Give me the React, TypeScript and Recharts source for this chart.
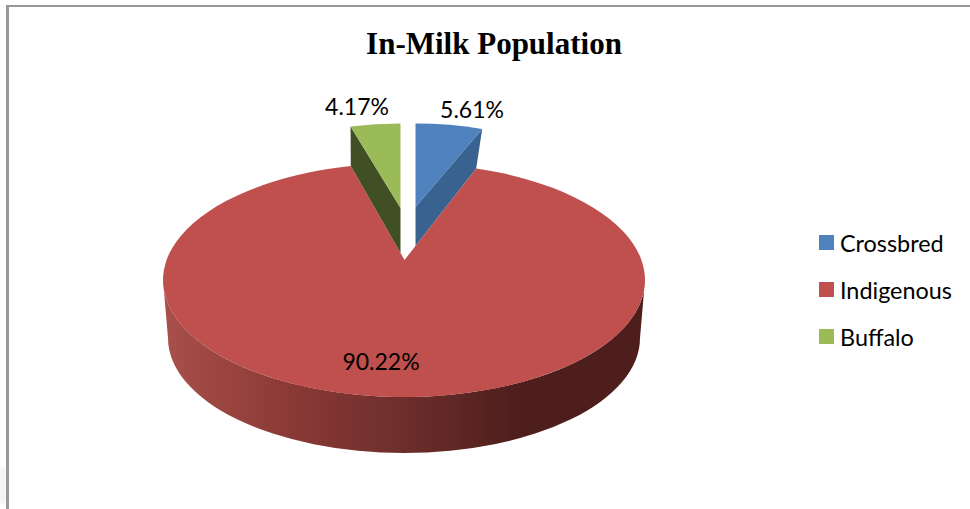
import { PieChart, Pie, Legend } from "recharts";

const categories = ["Crossbred", "Indigenous", "Buffalo"];
const shares = [5.61, 90.22, 4.17];
const colors = ["#4F81BD", "#BF504D", "#9BBB59"];
const sideColors = ["#3A6291", "", "#404F24"];

const rows = categories.map((name, i) => ({ name, value: shares[i], fill: colors[i] }));

// fake 3D: the tilted disc is an ellipse whose hub sits above its centre
const TILT = 117 / 241;
const HUB_LIFT = 20;
const RAY_SQUASH = 0.47;
const EXPLODED_SCALE = 0.93;
const EXPLODED_LIFT = 39.5;
const tips: Record<string, { x: number; y: number }> = {
  Crossbred: { x: 415.5, y: 207 },
  Buffalo: { x: 400.5, y: 208 },
};
const labelSpots: Record<string, { x: number; y: number }> = {
  Crossbred: { x: 472, y: 108.5 },
  Indigenous: { x: 381, y: 361 },
  Buffalo: { x: 357, y: 105.5 },
};

function rimPoint(angle: number, cx: number, cy: number, rx: number) {
  const ry = rx * TILT;
  const t = ((90 - angle) * Math.PI) / 180;
  const hx = cx + 0.5;
  const hy = cy - HUB_LIFT;
  const dx = Math.sin(t);
  const dy = -Math.cos(t) * RAY_SQUASH;
  const ox = (hx - cx) / rx;
  const oy = (hy - cy) / ry;
  const a = (dx / rx) ** 2 + (dy / ry) ** 2;
  const b = 2 * (ox * dx / rx + oy * dy / ry);
  const c = ox * ox + oy * oy - 1;
  const k = (-b + Math.sqrt(b * b - 4 * a * c)) / (2 * a);
  return { x: hx + k * dx, y: hy + k * dy, hx, hy };
}

function Slice(props: any) {
  const { name, cx, cy, outerRadius: rx, startAngle, endAngle, fill } = props;
  const ry = rx * TILT;
  const a = rimPoint(startAngle, cx, cy, rx);
  const b = rimPoint(endAngle, cx, cy, rx);

  if (name === "Indigenous") {
    const bx = cx;
    const by = cy + 58;
    const brx = rx - 5;
    const bry = 115;
    return (
      <g>
        <defs>
          <linearGradient id="wall" gradientUnits="userSpaceOnUse" x1={cx - rx} x2={cx + rx} y1={0} y2={0}>
            <stop offset="0" stopColor="#A9504A" />
            <stop offset="0.25" stopColor="#8C3A36" />
            <stop offset="0.5" stopColor="#6D2E2C" />
            <stop offset="0.74" stopColor="#4E1E1C" />
            <stop offset="1" stopColor="#4E1E1C" />
          </linearGradient>
        </defs>
        <path
          d={`M${cx - rx},${cy} A${rx},${ry} 0 0 0 ${cx + rx},${cy} L${bx + brx},${by} A${brx},${bry} 0 0 1 ${bx - brx},${by} Z`}
          fill="url(#wall)"
        />
        <path
          d={`M${a.hx},${a.hy} L${a.x},${a.y} A${rx},${ry} 0 1 1 ${b.x},${b.y} Z`}
          fill={fill}
        />
      </g>
    );
  }

  // pulled-out slices keep their tip above the red wedge's cut edge
  const tip = tips[name];
  const lift = (p: { x: number; y: number; hx: number }) => ({
    x: tip.x + (p.x - p.hx) * EXPLODED_SCALE,
    y: p.y - EXPLODED_LIFT,
  });
  const p = lift(a);
  const q = lift(b);
  const outer = name === "Crossbred" ? b : a;
  const outerTop = name === "Crossbred" ? q : p;
  const cut = (tip.x - a.hx) / (outer.x - a.hx);
  const footY = a.hy + (outer.y - a.hy) * cut;
  return (
    <g>
      <path
        d={`M${outerTop.x},${outerTop.y} L${tip.x},${tip.y} L${tip.x},${footY} L${outer.x},${outer.y} Z`}
        fill={sideColors[categories.indexOf(name)]}
      />
      <path
        d={`M${tip.x},${tip.y} L${p.x},${p.y} A${rx * EXPLODED_SCALE},${ry} 0 0 1 ${q.x},${q.y} Z`}
        fill={fill}
      />
    </g>
  );
}

function SliceLabel(props: any) {
  const spot = labelSpots[props.name];
  return (
    <text
      x={spot.x}
      y={spot.y}
      textAnchor="middle"
      dominantBaseline="central"
      fontFamily="Lato"
      fontSize={23}
      fill="#000"
    >
      {props.value.toFixed(2)}%
    </text>
  );
}

function LegendBox({ payload }: any) {
  return (
    <div>
      {(payload ?? []).map((item: any) => (
        <div key={item.value} style={{ display: "flex", alignItems: "center", height: 47 }}>
          <span style={{ width: 15, height: 15, background: item.color, marginRight: 6 }} />
          <span style={{ fontFamily: "Lato", fontSize: 23.4, color: "#000" }}>{item.value}</span>
        </div>
      ))}
    </div>
  );
}

export default function App() {
  return (
    <div style={{ position: "absolute", left: 0, top: 0, width: 970, height: 509, background: "#fff", overflow: "hidden" }}>
      <div style={{ position: "absolute", left: 0, top: 468, width: 5, height: 36, background: "#eee", filter: "blur(2px)" }} />
      <div style={{ position: "absolute", left: 6, top: 5, width: 964, height: 2, background: "#999" }} />
      <div style={{ position: "absolute", left: 6, top: 5, width: 3, height: 504, background: "#999" }} />
      <div
        style={{
          position: "absolute",
          left: 0,
          width: 970,
          top: 26,
          textAlign: "center",
          fontFamily: "Liberation Serif",
          fontWeight: "bold",
          fontSize: 31,
          lineHeight: "36px",
          transform: "translateX(9px)",
        }}
      >
        In-Milk Population
      </div>
      <PieChart width={970} height={509} margin={{ top: 0, right: 0, bottom: 0, left: 0 }} style={{ position: "absolute", left: 0, top: 0 }}>
        <Pie
          data={rows}
          dataKey="value"
          nameKey="name"
          cx={404}
          cy={280}
          outerRadius={241}
          startAngle={90}
          endAngle={-270}
          stroke="none"
          shape={Slice}
          label={SliceLabel}
          labelLine={false}
          isAnimationActive={false}
        />
        <Legend
          layout="vertical"
          align="right"
          verticalAlign="top"
          itemSorter={null}
          content={LegendBox}
          wrapperStyle={{ left: 819, top: 219, width: 150 }}
        />
      </PieChart>
    </div>
  );
}
